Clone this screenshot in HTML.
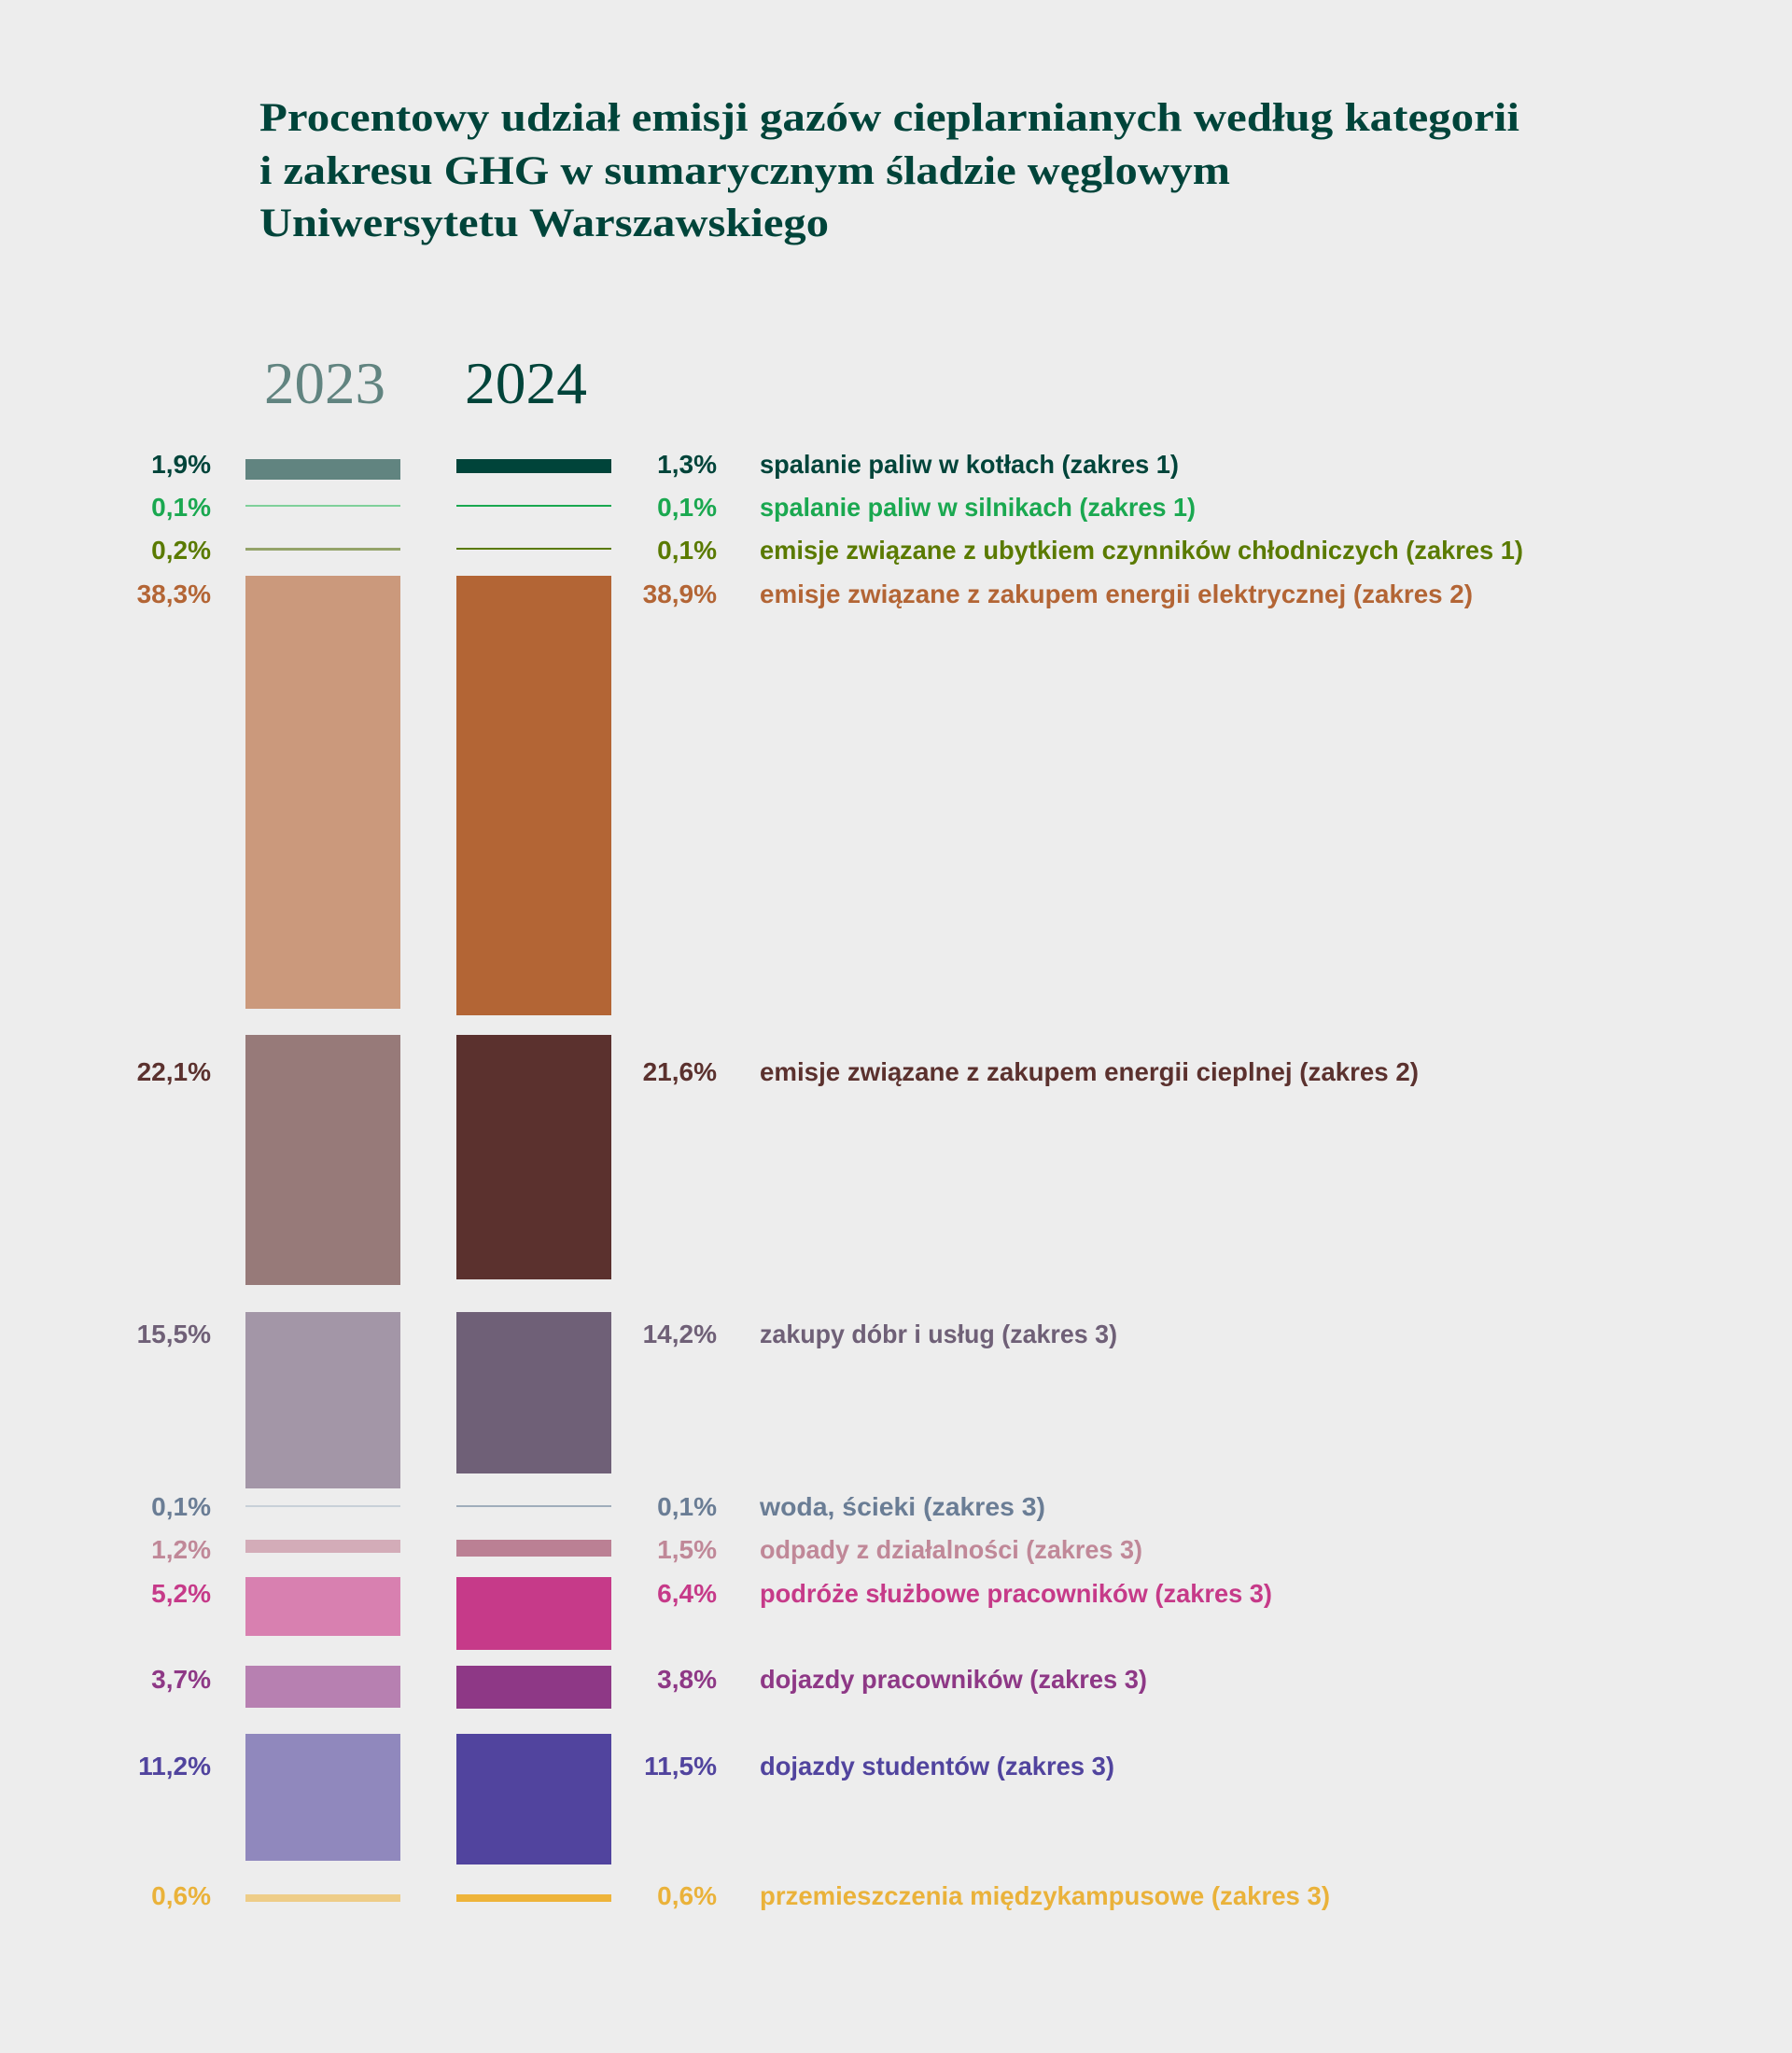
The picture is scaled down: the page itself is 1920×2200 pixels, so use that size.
<!DOCTYPE html>
<html><head><meta charset="utf-8"><style>
html,body{margin:0;padding:0;background:#ededed;}
svg{display:block;}
.n{font-family:"Liberation Sans",sans-serif;font-weight:bold;font-size:28px;}
.c{font-family:"Liberation Sans",sans-serif;font-weight:bold;font-size:28px;}
.t{font-family:"Liberation Serif",serif;font-weight:bold;font-size:43px;fill:#00443a;}
</style></head><body>
<svg width="1920" height="2200" viewBox="0 0 1920 2200" xmlns="http://www.w3.org/2000/svg">
<rect width="1920" height="2200" fill="#ededed"/>
<text class="t" x="278" y="140" textLength="1350" lengthAdjust="spacingAndGlyphs">Procentowy udział emisji gazów cieplarnianych według kategorii</text>
<text class="t" x="278" y="197" textLength="1040" lengthAdjust="spacingAndGlyphs">i zakresu GHG w sumarycznym śladzie węglowym</text>
<text class="t" x="278" y="253" textLength="610" lengthAdjust="spacingAndGlyphs">Uniwersytetu Warszawskiego</text>
<text x="283" y="432" font-family="Liberation Serif,serif" font-size="64" fill="#618480" textLength="130" lengthAdjust="spacingAndGlyphs">2023</text>
<text x="498" y="432" font-family="Liberation Serif,serif" font-size="64" fill="#00443a" textLength="131" lengthAdjust="spacingAndGlyphs">2024</text>

<!-- bars left x 263-429, right 489-655 -->
<rect x="263" y="492" width="166" height="22" fill="#618480"/>
<rect x="489" y="492" width="166" height="15" fill="#00443a"/>
<rect x="263" y="541" width="166" height="2" fill="#7fd09a"/>
<rect x="489" y="541" width="166" height="2" fill="#1aa850"/>
<rect x="263" y="587" width="166" height="3" fill="#94a36a"/>
<rect x="489" y="587" width="166" height="2" fill="#5a7a00"/>
<rect x="263" y="617" width="166" height="464" fill="#cb997c"/>
<rect x="489" y="617" width="166" height="471" fill="#b36535"/>
<rect x="263" y="1109" width="166" height="268" fill="#977a79"/>
<rect x="489" y="1109" width="166" height="262" fill="#5b312e"/>
<rect x="263" y="1406" width="166" height="189" fill="#a396a7"/>
<rect x="489" y="1406" width="166" height="173" fill="#6f6077"/>
<rect x="263" y="1613" width="166" height="2" fill="#c8d0d8"/>
<rect x="489" y="1613" width="166" height="2" fill="#a0adbb"/>
<rect x="263" y="1650" width="166" height="14" fill="#d3acb8"/>
<rect x="489" y="1650" width="166" height="18" fill="#bb8094"/>
<rect x="263" y="1690" width="166" height="63" fill="#d880b0"/>
<rect x="489" y="1690" width="166" height="78" fill="#c63a89"/>
<rect x="263" y="1785" width="166" height="45" fill="#b780b1"/>
<rect x="489" y="1785" width="166" height="46" fill="#8e3886"/>
<rect x="263" y="1858" width="166" height="136" fill="#9088bd"/>
<rect x="489" y="1858" width="166" height="140" fill="#51449e"/>
<rect x="263" y="2030" width="166" height="8" fill="#eecd88"/>
<rect x="489" y="2030" width="166" height="8" fill="#eeb43a"/>

<g class="n" text-anchor="end">
<text x="226" y="507" fill="#00443a">1,9%</text><text x="768" y="507" fill="#00443a">1,3%</text>
<text x="226" y="553" fill="#1aa850">0,1%</text><text x="768" y="553" fill="#1aa850">0,1%</text>
<text x="226" y="599" fill="#5a7a00">0,2%</text><text x="768" y="599" fill="#5a7a00">0,1%</text>
<text x="226" y="646" fill="#b36535">38,3%</text><text x="768" y="646" fill="#b36535">38,9%</text>
<text x="226" y="1158" fill="#5b312e">22,1%</text><text x="768" y="1158" fill="#5b312e">21,6%</text>
<text x="226" y="1439" fill="#6f6077">15,5%</text><text x="768" y="1439" fill="#6f6077">14,2%</text>
<text x="226" y="1624" fill="#6a7d95">0,1%</text><text x="768" y="1624" fill="#6a7d95">0,1%</text>
<text x="226" y="1670" fill="#c08898">1,2%</text><text x="768" y="1670" fill="#c08898">1,5%</text>
<text x="226" y="1717" fill="#c63a89">5,2%</text><text x="768" y="1717" fill="#c63a89">6,4%</text>
<text x="226" y="1809" fill="#8e3886">3,7%</text><text x="768" y="1809" fill="#8e3886">3,8%</text>
<text x="226" y="1902" fill="#51449e">11,2%</text><text x="768" y="1902" fill="#51449e">11,5%</text>
<text x="226" y="2041" fill="#eab23a">0,6%</text><text x="768" y="2041" fill="#eab23a">0,6%</text>
</g>
<g class="c" lengthAdjust="spacingAndGlyphs">
<text x="814" y="507" fill="#00443a" textLength="449" lengthAdjust="spacingAndGlyphs">spalanie paliw w kotłach (zakres 1)</text>
<text x="814" y="553" fill="#1aa850" textLength="467" lengthAdjust="spacingAndGlyphs">spalanie paliw w silnikach (zakres 1)</text>
<text x="814" y="599" fill="#5a7a00" textLength="818" lengthAdjust="spacingAndGlyphs">emisje związane z ubytkiem czynników chłodniczych (zakres 1)</text>
<text x="814" y="646" fill="#b36535" textLength="764" lengthAdjust="spacingAndGlyphs">emisje związane z zakupem energii elektrycznej (zakres 2)</text>
<text x="814" y="1158" fill="#5b312e" textLength="706" lengthAdjust="spacingAndGlyphs">emisje związane z zakupem energii cieplnej (zakres 2)</text>
<text x="814" y="1439" fill="#6f6077" textLength="383" lengthAdjust="spacingAndGlyphs">zakupy dóbr i usług (zakres 3)</text>
<text x="814" y="1624" fill="#6a7d95" textLength="306" lengthAdjust="spacingAndGlyphs">woda, ścieki (zakres 3)</text>
<text x="814" y="1670" fill="#c08898" textLength="410" lengthAdjust="spacingAndGlyphs">odpady z działalności (zakres 3)</text>
<text x="814" y="1717" fill="#c63a89" textLength="549" lengthAdjust="spacingAndGlyphs">podróże służbowe pracowników (zakres 3)</text>
<text x="814" y="1809" fill="#8e3886" textLength="415" lengthAdjust="spacingAndGlyphs">dojazdy pracowników (zakres 3)</text>
<text x="814" y="1902" fill="#51449e" textLength="380" lengthAdjust="spacingAndGlyphs">dojazdy studentów (zakres 3)</text>
<text x="814" y="2041" fill="#eab23a" textLength="611" lengthAdjust="spacingAndGlyphs">przemieszczenia międzykampusowe (zakres 3)</text>
</g>
</svg>
</body></html>
